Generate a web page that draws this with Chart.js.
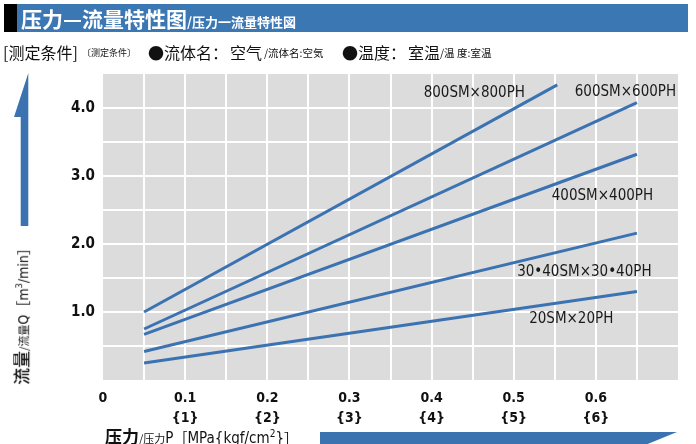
<!DOCTYPE html>
<html>
<head>
<meta charset="utf-8">
<script src="https://cdn.jsdelivr.net/npm/chart.js@4.4.1/dist/chart.umd.min.js"></script>
<style>
  html, body { margin:0; padding:0; background:#fff; }
  #wrap { position:relative; width:696px; height:444px; overflow:hidden; font-family:'Noto Sans CJK SC', 'Noto Sans', sans-serif; }
  canvas { position:absolute; left:0; top:0; }
  #hdr { position:absolute; left:4px; top:4px; width:684px; height:28px; background:#3b77b3; }
  #hdr .blk { position:absolute; left:0; top:0; width:13px; height:28px; background:#000; }
  #hdr .t { position:absolute; left:17px; top:0; height:28px; line-height:28px; color:#fff; font-weight:bold; white-space:nowrap; }
  #cond { position:absolute; left:3px; top:40px; height:24px; line-height:24px; white-space:nowrap; color:#111; }
  .ab { position:absolute; white-space:nowrap; }
  .nar { font-family:'Liberation Sans Narrow','DejaVu Sans Condensed','Roboto',sans-serif; }
  svg { position:absolute; left:0; top:0; }
</style>
</head>
<body>
<div id="wrap">
  <canvas id="c" width="696" height="444"></canvas>
  <div id="hdr"><div class="blk"></div><div class="t"><span style="font-size:21px;letter-spacing:0px">压力—流量特性图</span><span style="font-size:13px">/压力一流量特性図</span></div></div>
  <div id="cond">
    <span class="ab" style="left:0px;font-size:16px">[测定条件]</span>
    <span class="ab" style="left:79px;font-size:9px;top:1px">〔测定条件〕</span>
    <span class="ab" style="left:145px;font-size:16px">●流体名：</span>
    <span class="ab" style="left:227px;font-size:16px">空气</span>
    <span class="ab" style="left:261px;font-size:10.5px;top:1px">/流体名:空気</span>
    <span class="ab" style="left:339px;font-size:16px">●温度：</span>
    <span class="ab" style="left:405px;font-size:16px">室温</span>
    <span class="ab" style="left:437px;font-size:10.5px;top:1px">/温 度:室温</span>
  </div>
  <div class="ab" id="ytitle" style="left:21px;top:313px;transform:translate(-50%,-50%) rotate(-90deg);color:#111;line-height:20px;">
    <span style="font-size:17px;font-weight:500">流量</span><span style="font-size:11px">/流量</span><span class="nar" style="font-size:14px">Q</span><span style="font-size:14px">［</span><span class="nar" style="font-size:14px">m<sup style="font-size:9px">3</sup>/min</span><span style="font-size:14px">］</span>
  </div>
  <div class="ab" id="xtitle" style="left:105px;top:424px;color:#111;line-height:20px;">
    <span style="font-size:17px;font-weight:bold">压力</span><span style="font-size:11px">/压力</span><span class="nar" style="font-size:15px">P</span><span style="font-size:14px">［</span><span class="nar" style="font-size:15px">MPa{kgf/cm<sup style="font-size:10px">2</sup>}</span><span style="font-size:14px">］</span>
  </div>
  <svg width="696" height="444">
    <polygon points="28.3,73 14,117 20.7,117 20.7,226 28.3,226" fill="#3b73b1"/>
    <polygon points="320,432 677,432 633,450 320,450" fill="#3b73b1"/>
  </svg>
</div>
<script>
// ---- data ----
const pressure800 = [0.05, 0.553];
const flow800     = [1.00, 4.34];
const pressure600 = [0.05, 0.65];
const flow600     = [0.75, 4.08];
const pressure400 = [0.05, 0.65];
const flow400     = [0.67, 3.32];
const pressure3040 = [0.05, 0.65];
const flow3040     = [0.42, 2.16];
const pressure20 = [0.05, 0.65];
const flow20     = [0.25, 1.30];
const seriesNames = ['800SM×800PH', '600SM×600PH', '400SM×400PH', '30•40SM×30•40PH', '20SM×20PH'];
const xTickMain = ['0', '0.1', '0.2', '0.3', '0.4', '0.5', '0.6'];
const xTickSub  = ['', '{1}', '{2}', '{3}', '{4}', '{5}', '{6}'];
const yTickLabels = ['1.0', '2.0', '3.0', '4.0'];

const pts = (xs, ys) => xs.map((x, i) => ({x, y: ys[i]}));
const blue = '#3b72b1';
const seriesData = [
  pts(pressure800, flow800),
  pts(pressure600, flow600),
  pts(pressure400, flow400),
  pts(pressure3040, flow3040),
  pts(pressure20, flow20)
];
// label anchor points in data units
const labelAnchors = [
  {x:0.452, y:4.22}, {x:0.636, y:4.24}, {x:0.608, y:2.70}, {x:0.586, y:1.584}, {x:0.570, y:0.893}
];

const narrow = "'Liberation Sans Narrow','DejaVu Sans Condensed','Roboto',sans-serif";

const bgPlugin = {
  id:'bg',
  beforeDraw(chart){
    const {ctx, chartArea:a} = chart;
    ctx.save(); ctx.fillStyle = '#dcdcdc';
    ctx.fillRect(a.left, a.top, a.right-a.left, a.bottom-a.top);
    ctx.restore();
  }
};
const labelPlugin = {
  id:'lbl',
  afterDatasetsDraw(chart){
    const {ctx, scales:{x, y}} = chart;
    ctx.save();
    ctx.font = '15px ' + narrow;
    ctx.fillStyle = '#1a1a1a';
    ctx.textAlign = 'center'; ctx.textBaseline = 'middle';
    seriesNames.forEach((n, i) => {
      ctx.fillText(n, x.getPixelForValue(labelAnchors[i].x), y.getPixelForValue(labelAnchors[i].y));
    });
    ctx.restore();
  }
};

const near = (a, b) => Math.abs(a - b) < 1e-6;

new Chart(document.getElementById('c'), {
  type:'line',
  data:{
    datasets: seriesData.map((d, i) => ({
      label: seriesNames[i], data: d, borderColor: blue, borderWidth: 3,
      pointRadius: 0, tension: 0, fill: false
    }))
  },
  options:{
    responsive:false, animation:false,
    layout:{ padding:{ top:74, right:18, left:0, bottom:0 } },
    plugins:{ legend:{display:false}, tooltip:{enabled:false} },
    scales:{
      x:{
        type:'linear', min:0, max:0.7,
        border:{display:false},
        grid:{ color:(c)=> (near(c.tick.value,0)||near(c.tick.value,0.7)) ? 'rgba(0,0,0,0)' : '#ffffff', lineWidth:2, drawTicks:false },
        afterFit(s){ s.height = 64; },
        ticks:{
          stepSize:0.05, autoSkip:false, maxRotation:0, padding:9, color:'#111',
          font:{ family:narrow, size:14, weight:'bold', lineHeight:1.4 },
          callback:(v)=>{
            const k = Math.round(v*10);
            if (!near(v*10, k) || k > 6) return '';
            return k === 0 ? xTickMain[0] : [xTickMain[k], xTickSub[k]];
          }
        }
      },
      y:{
        min:0, max:4.5,
        border:{display:false},
        grid:{ color:(c)=> (near(c.tick.value,0)||near(c.tick.value,4.5)) ? 'rgba(0,0,0,0)' : '#ffffff', lineWidth:2, drawTicks:false },
        afterFit(s){ s.width = 103; },
        ticks:{
          stepSize:0.5, autoSkip:false, padding:8, color:'#111',
          font:{ family:narrow, size:15, weight:'bold' },
          callback:(v)=>{
            const k = Math.round(v);
            if (!near(v, k) || k < 1 || k > 4) return '';
            return yTickLabels[k-1];
          }
        }
      }
    }
  },
  plugins:[bgPlugin, labelPlugin]
});
</script>
</body>
</html>
